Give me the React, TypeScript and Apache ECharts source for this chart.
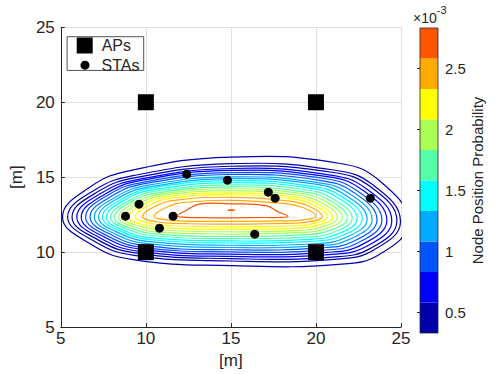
import React, { useEffect, useRef } from "react";
import * as echarts from "echarts";

// ---- data ----
const apX = [10, 20, 10, 20];
const apY = [20, 20, 10, 10];
const staX = [8.8, 9.6, 10.8, 11.6, 12.4, 14.8, 16.4, 17.2, 17.6, 23.2];
const staY = [12.4, 13.2, 11.6, 12.4, 15.2, 14.8, 11.2, 14.0, 13.6, 13.6];

// contour levels (x1e-3), outermost -> innermost (last one is the tiny peak contour)
const contourLevels = [0.33, 0.455, 0.58, 0.705, 0.83, 0.955, 1.08, 1.205, 1.33, 1.455, 1.58, 1.705, 1.83, 1.955, 2.08, 2.205, 2.33, 2.455, 2.58, 2.705, 2.83];
// left / right tips of each contour (x, m)
const contourLeftX = [5.1, 5.4, 5.66, 5.94, 6.2, 6.46, 6.72, 6.97, 7.22, 7.45, 7.68, 7.92, 8.15, 8.4, 8.68, 8.99, 9.38, 9.8, 10.5, 11.84, 14.82];
const contourRightX = [25.4, 24.97, 24.76, 24.46, 24.17, 23.88, 23.59, 23.3, 23.01, 22.72, 22.42, 22.13, 21.84, 21.55, 21.26, 20.97, 20.68, 20.38, 19.99, 18.36, 15.2];
const contourTipLeftY = [12.35, 12.35, 12.35, 12.35, 12.35, 12.35, 12.35, 12.35, 12.34, 12.34, 12.33, 12.33, 12.32, 12.32, 12.32, 12.33, 12.35, 12.37, 12.4, 12.42, 12.8];
const contourTipRightY = [12.0, 12.05, 12.08, 12.1, 12.12, 12.14, 12.16, 12.18, 12.2, 12.22, 12.24, 12.26, 12.28, 12.3, 12.32, 12.34, 12.36, 12.38, 12.4, 12.4, 12.8];
// upper edge at 8%, 20% of the width, at x = 15, at 80%, 92% of the width
const contourTopNearLeftY = [14.35, 14.13, 14.04, 13.97, 13.9, 13.86, 13.79, 13.71, 13.67, 13.6, 13.55, 13.47, 13.42, 13.35, 13.3, 13.23, 13.18, 13.11, 13.01, 12.78, 12.805];
const contourTopLeftY = [15.46, 15.12, 14.99, 14.87, 14.8, 14.69, 14.61, 14.49, 14.39, 14.31, 14.2, 14.1, 13.99, 13.91, 13.82, 13.72, 13.62, 13.49, 13.33, 13.2, 12.81];
const contourTopMidY = [16.34, 15.9, 15.73, 15.58, 15.45, 15.31, 15.18, 15.02, 14.9, 14.77, 14.64, 14.49, 14.36, 14.23, 14.1, 13.96, 13.83, 13.66, 13.46, 13.22, 12.82];
const contourTopRightY = [15.93, 15.48, 15.33, 15.16, 15.05, 14.93, 14.79, 14.65, 14.55, 14.41, 14.3, 14.18, 14.05, 13.94, 13.82, 13.7, 13.58, 13.43, 13.25, 13.1, 12.81];
const contourTopNearRightY = [14.73, 14.44, 14.34, 14.22, 14.15, 14.04, 13.97, 13.88, 13.79, 13.72, 13.66, 13.55, 13.49, 13.42, 13.33, 13.26, 13.18, 13.1, 12.98, 12.65, 12.805];
// lower edge at 8%, 20% of the width, at x = 15, at 80%, 92% of the width
const contourBottomNearLeftY = [10.56, 10.73, 10.82, 10.88, 10.96, 11.02, 11.1, 11.17, 11.25, 11.32, 11.38, 11.47, 11.55, 11.63, 11.72, 11.81, 11.92, 12.03, 12.15, 12.32, 12.795];
const contourBottomLeftY = [9.52, 9.79, 9.93, 10.05, 10.18, 10.3, 10.42, 10.55, 10.68, 10.81, 10.92, 11.06, 11.19, 11.32, 11.46, 11.6, 11.76, 11.91, 12.07, 12.3, 12.79];
const contourBottomMidY = [9.1, 9.41, 9.57, 9.72, 9.87, 10.02, 10.16, 10.31, 10.46, 10.61, 10.75, 10.9, 11.05, 11.21, 11.36, 11.52, 11.69, 11.87, 12.05, 12.29, 12.79];
const contourBottomRightY = [9.19, 9.52, 9.67, 9.84, 9.98, 10.13, 10.28, 10.42, 10.56, 10.72, 10.85, 11.0, 11.15, 11.3, 11.44, 11.59, 11.75, 11.92, 12.08, 12.31, 12.79];
const contourBottomNearRightY = [9.88, 10.15, 10.27, 10.39, 10.52, 10.63, 10.74, 10.87, 10.98, 11.09, 11.2, 11.31, 11.42, 11.54, 11.65, 11.77, 11.89, 12.02, 12.15, 12.31, 12.795];

const colorbarMin = 0.33;
const colorbarMax = 2.83;
const colorbarBandLow = [0.33, 0.58, 0.83, 1.08, 1.33, 1.58, 1.83, 2.08, 2.33, 2.58];
const colorbarTicks = [0.5, 1, 1.5, 2, 2.5];
const jetColors = ["#0000AA", "#0000FF", "#0055FF", "#00AAFF", "#00FFFF", "#55FFAA", "#AAFF55", "#FFFF00", "#FFAA00", "#FF5500"];

const TXT = "#262626";
const FONT = "Liberation Sans, Arial, Helvetica, sans-serif";
const MID_X = 15;

function levelColor(lv: number) {
  const band = colorbarBandLow.length;
  const step = (colorbarMax - colorbarMin) / band;
  let idx = Math.ceil((lv - colorbarMin) / step - 1e-6) - 1;
  idx = Math.max(0, Math.min(band - 1, idx));
  return jetColors[idx];
}

export default function App() {
  const ref = useRef<HTMLDivElement>(null);
  useEffect(() => {
    document.body.style.margin = "0";
    const chart = echarts.init(ref.current!, null, { renderer: "svg" });
    const option: any = {
      animation: false,
      backgroundColor: "#ffffff",
      textStyle: { fontFamily: FONT, color: TXT },
      grid: [
        { left: 57.7, right: 97, top: 27.3, bottom: 42, containLabel: false },
        { left: 420, width: 18, top: 28, height: 305, containLabel: false },
      ],
      xAxis: [
        {
          type: "value", gridIndex: 0, min: 5, max: 25, interval: 5,
          name: "[m]", nameLocation: "middle", nameGap: 20,
          nameTextStyle: { fontSize: 17, color: TXT, fontFamily: FONT },
          axisLine: { show: true, onZero: false, lineStyle: { color: TXT, width: 1 } },
          axisTick: { show: true, inside: true, length: 4, lineStyle: { color: TXT } },
          axisLabel: { fontSize: 17, color: TXT, margin: 3, fontFamily: FONT },
          splitLine: { show: true, lineStyle: { color: "#dfdfdf", width: 1 } },
        },
        { type: "value", gridIndex: 1, min: 0, max: 1, show: false },
      ],
      yAxis: [
        {
          type: "value", gridIndex: 0, min: 5, max: 25, interval: 5,
          name: "[m]", nameLocation: "middle", nameGap: 34,
          nameTextStyle: { fontSize: 17, color: TXT, fontFamily: FONT },
          axisLine: { show: true, onZero: false, lineStyle: { color: TXT, width: 1 } },
          axisTick: { show: true, inside: true, length: 4, lineStyle: { color: TXT } },
          axisLabel: { fontSize: 17, color: TXT, margin: 6, fontFamily: FONT },
          splitLine: { show: true, lineStyle: { color: "#dfdfdf", width: 1 } },
        },
        {
          type: "value", gridIndex: 1, min: colorbarMin, max: colorbarMax, position: "right",
          name: "Node Position Probability", nameLocation: "middle", nameRotate: 90, nameGap: 30,
          nameTextStyle: { fontSize: 15, color: TXT, fontFamily: FONT },
          axisLine: { show: false },
          axisTick: { show: true, inside: true, length: 3, lineStyle: { color: TXT }, customValues: colorbarTicks },
          axisLabel: { show: true, fontSize: 15, color: TXT, margin: 7, fontFamily: FONT, customValues: colorbarTicks, formatter: (v: number) => String(v) },
          splitLine: { show: false },
        },
      ],
      legend: [
        {
          data: [{ name: "APs", icon: "rect", itemStyle: { color: "#000000", opacity: 1 } }], left: 76.7, top: 37.5, itemWidth: 16, itemHeight: 16,
          selectedMode: false, padding: 0, z: 10,
          textStyle: { fontSize: 16, color: TXT, fontFamily: FONT, padding: [0, 0, 0, 4] },
        },
        {
          data: [{ name: "STAs", icon: "circle", itemStyle: { color: "#000000", opacity: 1 } }], left: 80.5, top: 57.2, itemWidth: 9, itemHeight: 9,
          selectedMode: false, padding: 0, z: 10,
          textStyle: { fontSize: 16, color: TXT, fontFamily: FONT, padding: [0, 0, 0, 7] },
        },
      ],
      graphic: [
        {
          type: "rect", left: 66.7, top: 36.3, z: 5,
          shape: { width: 76.6, height: 33.7 },
          style: { fill: "#ffffff", stroke: TXT, lineWidth: 0.8 },
        },
        {
          type: "text", left: 413, top: 4, z: 10,
          style: {
            text: "{a|×10}{b|-3}",
            rich: {
              a: { fontSize: 14, fontFamily: FONT, fill: TXT, verticalAlign: "bottom", padding: [7, 0, 0, 0] },
              b: { fontSize: 11, fontFamily: FONT, fill: TXT, verticalAlign: "top" },
            },
          },
        },
      ],
      series: [
        {
          type: "custom", name: "contours", xAxisIndex: 0, yAxisIndex: 0, clip: true, silent: true, z: 2,
          data: contourLevels.map((lv) => [MID_X, 12.6, lv]),
          renderItem: (params: any, api: any) => {
            const k = params.dataIndex;
            const xl = contourLeftX[k];
            const xr = contourRightX[k];
            const w = xr - xl;
            const pts = [
              [xl, contourTipLeftY[k]],
              [xl + 0.08 * w, contourTopNearLeftY[k]],
              [xl + 0.2 * w, contourTopLeftY[k]],
              [MID_X, contourTopMidY[k]],
              [xl + 0.8 * w, contourTopRightY[k]],
              [xl + 0.92 * w, contourTopNearRightY[k]],
              [xr, contourTipRightY[k]],
              [xl + 0.92 * w, contourBottomNearRightY[k]],
              [xl + 0.8 * w, contourBottomRightY[k]],
              [MID_X, contourBottomMidY[k]],
              [xl + 0.2 * w, contourBottomLeftY[k]],
              [xl + 0.08 * w, contourBottomNearLeftY[k]],
            ].map((p) => api.coord(p));
            return {
              type: "polygon",
              shape: { points: pts, smooth: 0.45 },
              style: { fill: "none", stroke: levelColor(contourLevels[k]), lineWidth: 1.2 },
            };
          },
        },
        {
          type: "scatter", name: "APs", xAxisIndex: 0, yAxisIndex: 0, z: 5,
          symbol: "rect", symbolSize: 16, itemStyle: { color: "#000000", opacity: 1 },
          data: apX.map((x, i) => [x, apY[i]]),
        },
        {
          type: "scatter", name: "STAs", xAxisIndex: 0, yAxisIndex: 0, z: 5,
          symbol: "circle", symbolSize: 9, itemStyle: { color: "#000000", opacity: 1 },
          data: staX.map((x, i) => [x, staY[i]]),
        },
        {
          type: "custom", name: "colorbar", xAxisIndex: 1, yAxisIndex: 1, silent: true, z: 2,
          data: colorbarBandLow.map((lo, i) => [0, lo, i]),
          renderItem: (params: any, api: any) => {
            const i = params.dataIndex;
            const lo = colorbarBandLow[i];
            const hi = i + 1 < colorbarBandLow.length ? colorbarBandLow[i + 1] : colorbarMax;
            const p0 = api.coord([0, hi]);
            const p1 = api.coord([1, lo]);
            return {
              type: "rect",
              shape: { x: p0[0], y: p0[1], width: p1[0] - p0[0], height: p1[1] - p0[1] },
              style: { fill: jetColors[i], stroke: null },
            };
          },
        },
        {
          type: "custom", name: "colorbarFrame", xAxisIndex: 1, yAxisIndex: 1, silent: true, z: 3,
          data: [[0, colorbarMin]],
          renderItem: (params: any, api: any) => {
            const p0 = api.coord([0, colorbarMax]);
            const p1 = api.coord([1, colorbarMin]);
            return {
              type: "rect",
              shape: { x: p0[0], y: p0[1], width: p1[0] - p0[0], height: p1[1] - p0[1] },
              style: { fill: "none", stroke: TXT, lineWidth: 0.8 },
            };
          },
        },
      ],
    };
    chart.setOption(option);
    return () => chart.dispose();
  }, []);
  return <div ref={ref} style={{ width: 498, height: 374 }} />;
}
